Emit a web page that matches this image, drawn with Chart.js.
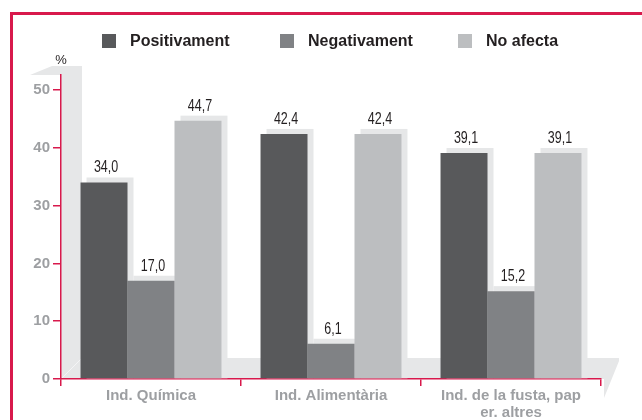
<!DOCTYPE html>
<html>
<head>
<meta charset="utf-8">
<script src="https://cdn.jsdelivr.net/npm/chart.js@4.4.1/dist/chart.umd.min.js"></script>
<style>
  html, body { margin: 0; padding: 0; background: #fff; }
  #wrap { position: relative; width: 642px; height: 420px; }
</style>
</head>
<body>
<div id="wrap"><canvas id="grafic" width="642" height="420"></canvas></div>
<script>
// ===============================
// DADES
// ===============================
const categories = ["Ind. Química", "Ind. Alimentària", ["Ind. de la fusta, pap", "er. altres"]];
const positivament = [34.0, 42.4, 39.1];
const negativament = [17.0, 6.1, 15.2];
const noAfecta = [44.7, 42.4, 39.1];
const yTicks = [0, 10, 20, 30, 40, 50];

const VERMELL = "#d8194c";
const OMBRA = "#e6e7e8";
const GRIS_TEXT = "#9d9fa2";

// ===============================
// PLUGINS
// ===============================
// marc vermell, parets i titol de l'eix
const marc = {
  id: "marc",
  beforeDraw(chart) {
    const ctx = chart.ctx;
    const ca = chart.chartArea;
    ctx.save();
    ctx.fillStyle = VERMELL;
    ctx.fillRect(10, 12, 3, 420);
    ctx.fillRect(10, 12, 642, 3);

    // paret esquerra (3D)
    ctx.fillStyle = OMBRA;
    ctx.beginPath();
    ctx.moveTo(30, ca.top);
    ctx.lineTo(52, ca.top - 9);
    ctx.lineTo(ca.left + 21, ca.top - 9);
    ctx.lineTo(ca.left + 21, ca.bottom);
    ctx.lineTo(ca.left, ca.bottom);
    ctx.lineTo(ca.left, ca.top);
    ctx.closePath();
    ctx.fill();

    // terra
    ctx.fillRect(ca.left, ca.bottom - 21, ca.right - ca.left, 21);
    ctx.beginPath();
    ctx.moveTo(ca.right, ca.bottom - 21);
    ctx.lineTo(ca.right + 18, ca.bottom - 21);
    ctx.lineTo(ca.right + 18, ca.bottom - 18);
    ctx.lineTo(ca.right + 3, ca.bottom + 19);
    ctx.lineTo(ca.right + 3, ca.bottom);
    ctx.lineTo(ca.right, ca.bottom);
    ctx.closePath();
    ctx.fill();

    ctx.strokeStyle = "#f4f4f5";
    ctx.lineWidth = 1;
    ctx.beginPath();
    ctx.moveTo(ca.left, ca.bottom);
    ctx.lineTo(ca.left + 20, ca.bottom - 20);
    ctx.stroke();

    // %
    ctx.fillStyle = "#231f20";
    ctx.font = "13px 'Liberation Sans', Arial, sans-serif";
    ctx.textAlign = "center";
    ctx.textBaseline = "middle";
    ctx.fillText("%", ca.left, 60);
    ctx.restore();
  }
};

// ombres de les barres
const ombres = {
  id: "ombres",
  beforeDatasetsDraw(chart) {
    const ctx = chart.ctx;
    ctx.save();
    ctx.fillStyle = OMBRA;
    chart.data.datasets.forEach((ds, i) => {
      chart.getDatasetMeta(i).data.forEach(bar => {
        const w = bar.width;
        ctx.fillRect(bar.x - w / 2 + 6, bar.y - 5, w, bar.base - bar.y + 5);
      });
    });
    ctx.restore();
  }
};

// etiquetes de valor (lletra estreta)
const etiquetes = {
  id: "etiquetes",
  afterDatasetsDraw(chart) {
    const ctx = chart.ctx;
    ctx.save();
    ctx.fillStyle = "#231f20";
    ctx.font = "16px 'Liberation Sans', Arial, sans-serif";
    ctx.textAlign = "center";
    ctx.textBaseline = "alphabetic";
    chart.data.datasets.forEach((ds, i) => {
      chart.getDatasetMeta(i).data.forEach((bar, j) => {
        const txt = ds.data[j].toFixed(1).replace(".", ",");
        ctx.save();
        ctx.translate(bar.x + 2, bar.y - 10);
        ctx.scale(0.78, 1);
        ctx.fillText(txt, 0, 0);
        ctx.restore();
      });
    });
    ctx.restore();
  }
};

// llegenda
const llegenda = {
  id: "llegenda",
  afterDraw(chart) {
    const ctx = chart.ctx;
    ctx.save();
    ctx.font = "bold 16px 'Liberation Sans', Arial, sans-serif";
    ctx.textBaseline = "middle";
    ctx.textAlign = "left";
    chart.data.datasets.forEach((ds, i) => {
      const x = 102 + i * 178;
      ctx.fillStyle = ds.backgroundColor;
      ctx.fillRect(x, 34, 14, 14);
      ctx.fillStyle = "#231f20";
      ctx.fillText(ds.label, x + 28, 41.5);
    });
    ctx.restore();
  }
};

// ===============================
// GRÀFIC
// ===============================
const chart = new Chart(document.getElementById("grafic"), {
  type: "bar",
  data: {
    labels: categories,
    datasets: [
      { label: "Positivament", data: positivament, backgroundColor: "#58595b" },
      { label: "Negativament", data: negativament, backgroundColor: "#808285" },
      { label: "No afecta", data: noAfecta, backgroundColor: "#bcbec0" }
    ]
  },
  options: {
    responsive: false,
    animation: false,
    devicePixelRatio: 1,
    layout: { padding: { left: 0, top: 75, right: 41, bottom: 0 } },
    datasets: {
      bar: { categoryPercentage: 0.783, barPercentage: 1, borderWidth: 0 }
    },
    plugins: {
      legend: { display: false },
      tooltip: { enabled: false }
    },
    scales: {
      x: {
        grid: {
          offset: true,
          drawOnChartArea: false,
          drawTicks: true,
          tickLength: 7,
          color: VERMELL,
          lineWidth: 1.5
        },
        border: { color: VERMELL, width: 1.5 },
        ticks: {
          color: GRIS_TEXT,
          padding: 2,
          maxRotation: 0,
          autoSkip: false,
          font: { family: "'Liberation Sans', Arial, sans-serif", size: 15, weight: "bold", lineHeight: 1.1 }
        },
        afterFit(scale) { scale.height = 41; }
      },
      y: {
        min: 0,
        max: 52.6,
        afterBuildTicks(scale) {
          scale.ticks = yTicks.map(v => ({ value: v }));
        },
        grid: {
          drawOnChartArea: false,
          drawTicks: true,
          tickLength: 8,
          color: VERMELL,
          lineWidth: 1.5
        },
        border: { color: VERMELL, width: 1.5 },
        ticks: {
          color: GRIS_TEXT,
          padding: 3,
          font: { family: "'Liberation Sans', Arial, sans-serif", size: 15, weight: "bold" }
        },
        afterFit(scale) { scale.width = 61; }
      }
    }
  },
  plugins: [marc, ombres, etiquetes, llegenda]
});
</script>
</body>
</html>
